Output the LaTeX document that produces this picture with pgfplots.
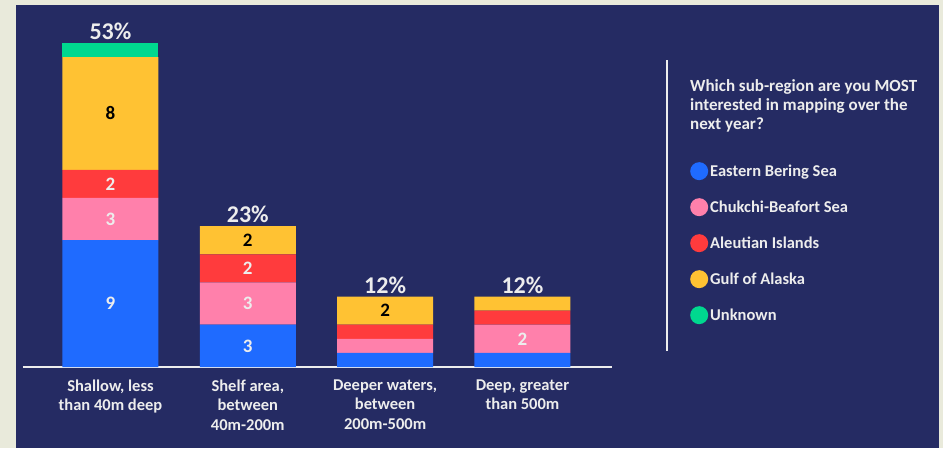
\documentclass[border=0pt]{standalone}
\usepackage{pgfplots}
\pgfplotsset{compat=1.18}
\usepackage{fontspec}
\setmainfont{Carlito}
\definecolor{bgnavy}{HTML}{252B63}
\definecolor{beige}{HTML}{E9EADB}
\definecolor{cblue}{HTML}{1F6BFF}
\definecolor{cpink}{HTML}{FF80AB}
\definecolor{cred}{HTML}{FF3B3D}
\definecolor{cyellow}{HTML}{FFC233}
\definecolor{cgreen}{HTML}{00D88F}
\definecolor{txt}{HTML}{EDEDED}
\begin{document}
\begin{tikzpicture}[x=1pt,y=1pt]
\fill[beige] (0,0) rectangle (943,448);
\fill[bgnavy] (16,0) rectangle (939,443);
\draw[txt, line width=2pt] (667,97) -- (667,388);
\node[anchor=north west, align=left, text=txt, font=\bfseries\fontsize{17}{19}\selectfont, inner sep=0pt] at (690,369)
  {Which sub-region are you MOST\\interested in mapping over the\\next year?};
\begin{axis}[
  at={(23pt,81pt)}, anchor=south west,
  scale only axis, width=589pt, height=324pt,
  xmin=-0.637, xmax=3.652, ymin=0, ymax=23,
  ybar stacked, bar width=96pt,
  axis x line=bottom, axis y line=none,
  x axis line style={draw=txt, line width=2.5pt, -},
  ytick=\empty,
  xtick={0,1,2,3},
  xticklabels={{Shallow, less\\than 40m deep},{Shelf area,\\between\\40m-200m},{Deeper waters,\\between\\200m-500m},{Deep, greater\\than 500m}},
  xticklabel style={align=center, text=txt, font=\bfseries\fontsize{16.5}{19.5}\selectfont, anchor=north, yshift=-9pt},
  major tick length=0pt,
  clip=false,
  visualization depends on=rawy\as\rawy,
  nodes near coords={\ifdim\rawy pt<1.5pt\else\pgfmathtruncatemacro\v{\rawy}\v\fi},
  every node near coord/.append style={font=\bfseries\fontsize{19}{19}\selectfont, anchor=center, text=txt},
  legend style={at={(1.1273,0.639)}, anchor=north west, draw=none, fill=none, text=txt, font=\bfseries\fontsize{16.5}{16.5}\selectfont, row sep=18pt, cells={anchor=west}},
  legend image code/.code={\fill[#1, draw=none] (0pt,0pt) circle (9pt);},
]
\addplot[fill=cblue, draw=none] coordinates {(0,9) (1,3) (2,1) (3,1)};
\addplot[fill=cpink, draw=none] coordinates {(0,3) (1,3) (2,1) (3,2)};
\addplot[fill=cred, draw=none] coordinates {(0,2) (1,2) (2,1) (3,1)};
\addplot[fill=cyellow, draw=none, every node near coord/.append style={text=black}] coordinates {(0,8) (1,2) (2,2) (3,1)};
\addplot[fill=cgreen, draw=none] coordinates {(0,1) (1,0) (2,0) (3,0)};
\legend{Eastern Bering Sea, Chukchi-Beafort Sea, Aleutian Islands, Gulf of Alaska, Unknown}
\node[anchor=south, text=txt, font=\bfseries\fontsize{24}{24}\selectfont, inner sep=0pt] at (axis cs:0,23) [yshift=3pt] {53\%};
\node[anchor=south, text=txt, font=\bfseries\fontsize{24}{24}\selectfont, inner sep=0pt] at (axis cs:1,10) [yshift=3pt] {23\%};
\node[anchor=south, text=txt, font=\bfseries\fontsize{24}{24}\selectfont, inner sep=0pt] at (axis cs:2,5) [yshift=3pt] {12\%};
\node[anchor=south, text=txt, font=\bfseries\fontsize{24}{24}\selectfont, inner sep=0pt] at (axis cs:3,5) [yshift=3pt] {12\%};
\end{axis}
\end{tikzpicture}
\end{document}
